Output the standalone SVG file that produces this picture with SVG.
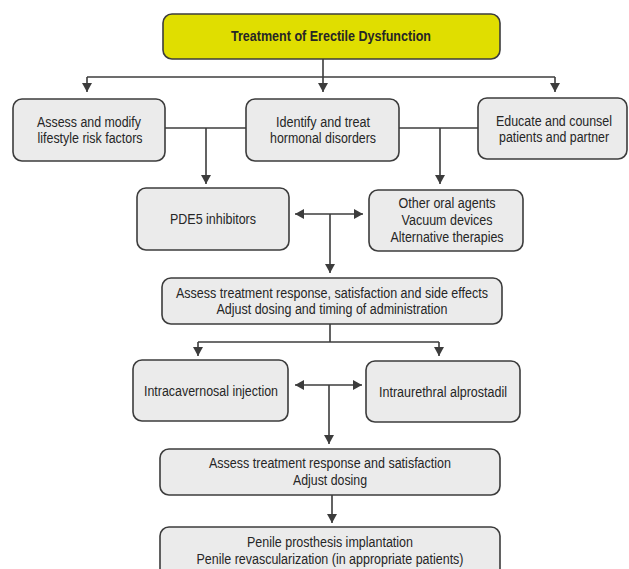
<svg xmlns="http://www.w3.org/2000/svg" width="629" height="569" viewBox="0 0 629 569">
<style>
.box{fill:#ebebeb;stroke:#3c3c3c;stroke-width:1.6}
.title{fill:#e0de00;stroke:#3c3c3c;stroke-width:1.6}
text{font-family:"Liberation Sans",Arial,sans-serif;font-size:14px;fill:#262626;text-anchor:middle}
.b{font-weight:bold}
.c path{fill:none;stroke:#3c3c3c;stroke-width:1.6}
</style>
<defs>
<marker id="ah" markerUnits="userSpaceOnUse" markerWidth="9" markerHeight="10" refX="9" refY="5" orient="auto-start-reverse" viewBox="0 0 9 10">
<path d="M0,0 L9,5 L0,10 z" fill="#3c3c3c"/>
</marker>
</defs>
<rect width="629" height="569" fill="#ffffff"/>
<g class="c" id="connectors">
<path d="M323,59 V92" marker-end="url(#ah)"/>
<path d="M87,77 H555"/>
<path d="M87,77 V92" marker-end="url(#ah)"/>
<path d="M555,77 V92" marker-end="url(#ah)"/>
<path d="M165,128 H246"/>
<path d="M399,128 H478"/>
<path d="M206,128 V184" marker-end="url(#ah)"/>
<path d="M440,128 V184" marker-end="url(#ah)"/>
<path d="M295,214 H363" marker-start="url(#ah)" marker-end="url(#ah)"/>
<path d="M330,214 V273" marker-end="url(#ah)"/>
<path d="M330,324 V342"/>
<path d="M198,342 H439"/>
<path d="M198,342 V356" marker-end="url(#ah)"/>
<path d="M439,342 V356" marker-end="url(#ah)"/>
<path d="M295,385 H362" marker-start="url(#ah)" marker-end="url(#ah)"/>
<path d="M329,385 V444" marker-end="url(#ah)"/>
<path d="M332,495 V523" marker-end="url(#ah)"/>
</g>
<g id="n-title">
<rect class="title" x="163" y="14" width="337" height="45" rx="9"/>
<text class="b" x="331" y="41" textLength="200" lengthAdjust="spacingAndGlyphs">Treatment of Erectile Dysfunction</text>
</g>
<g id="n-lifestyle">
<rect class="box" x="13" y="99" width="152" height="62" rx="9"/>
<text x="89" y="127" textLength="104" lengthAdjust="spacingAndGlyphs">Assess and modify</text>
<text x="90" y="143" textLength="105" lengthAdjust="spacingAndGlyphs">lifestyle risk factors</text>
</g>
<g id="n-hormonal">
<rect class="box" x="246" y="99" width="153" height="62" rx="9"/>
<text x="323" y="127" textLength="94" lengthAdjust="spacingAndGlyphs">Identify and treat</text>
<text x="323" y="143" textLength="106" lengthAdjust="spacingAndGlyphs">hormonal disorders</text>
</g>
<g id="n-educate">
<rect class="box" x="478" y="98" width="149" height="61" rx="9"/>
<text x="554" y="126" textLength="116" lengthAdjust="spacingAndGlyphs">Educate and counsel</text>
<text x="554" y="142" textLength="110" lengthAdjust="spacingAndGlyphs">patients and partner</text>
</g>
<g id="n-pde5">
<rect class="box" x="137" y="188" width="152" height="62" rx="9"/>
<text x="213" y="224" textLength="86" lengthAdjust="spacingAndGlyphs">PDE5 inhibitors</text>
</g>
<g id="n-other">
<rect class="box" x="369" y="190" width="154" height="61" rx="9"/>
<text x="447" y="208" textLength="97" lengthAdjust="spacingAndGlyphs">Other oral agents</text>
<text x="447" y="225" textLength="91" lengthAdjust="spacingAndGlyphs">Vacuum devices</text>
<text x="447" y="242" textLength="113" lengthAdjust="spacingAndGlyphs">Alternative therapies</text>
</g>
<g id="n-assess1">
<rect class="box" x="162" y="278" width="340" height="46" rx="9"/>
<text x="332" y="298" textLength="312" lengthAdjust="spacingAndGlyphs">Assess treatment response, satisfaction and side effects</text>
<text x="332" y="314" textLength="231" lengthAdjust="spacingAndGlyphs">Adjust dosing and timing of administration</text>
</g>
<g id="n-intracav">
<rect class="box" x="133" y="360" width="155" height="61" rx="9"/>
<text x="211" y="396" textLength="134" lengthAdjust="spacingAndGlyphs">Intracavernosal injection</text>
</g>
<g id="n-intraure">
<rect class="box" x="366" y="361" width="154" height="61" rx="9"/>
<text x="443" y="397" textLength="128" lengthAdjust="spacingAndGlyphs">Intraurethral alprostadil</text>
</g>
<g id="n-assess2">
<rect class="box" x="160" y="449" width="340" height="46" rx="9"/>
<text x="330" y="468" textLength="242" lengthAdjust="spacingAndGlyphs">Assess treatment response and satisfaction</text>
<text x="330" y="485" textLength="74" lengthAdjust="spacingAndGlyphs">Adjust dosing</text>
</g>
<g id="n-prosthesis">
<rect class="box" x="160" y="527" width="340" height="60" rx="9"/>
<text x="330" y="547" textLength="166" lengthAdjust="spacingAndGlyphs">Penile prosthesis implantation</text>
<text x="330" y="564" textLength="267" lengthAdjust="spacingAndGlyphs">Penile revascularization (in appropriate patients)</text>
</g>
</svg>
